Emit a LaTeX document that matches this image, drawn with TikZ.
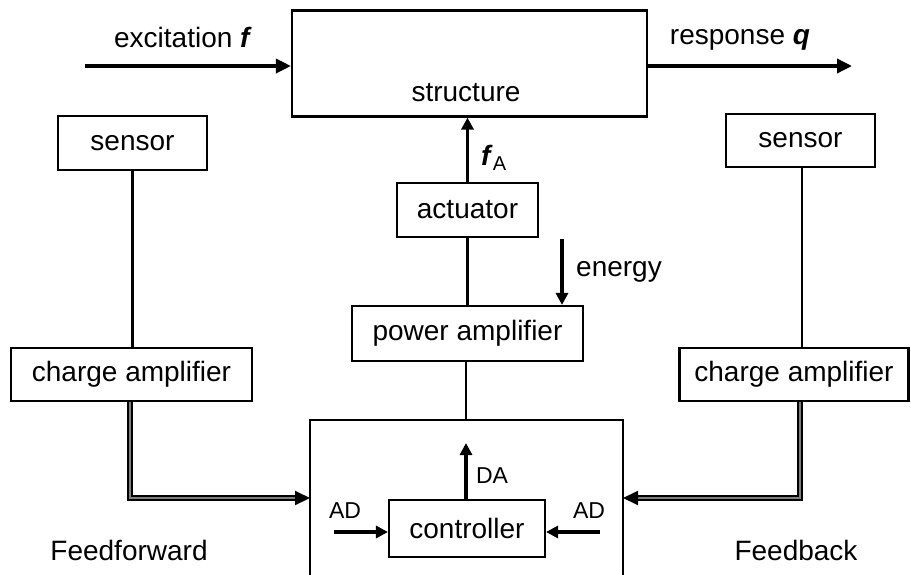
\documentclass[tikz,border=0pt]{standalone}
\usepackage{fontspec}
\setmainfont{Liberation Sans}
\usetikzlibrary{arrows.meta}
\begin{document}
\begin{tikzpicture}[x=1pt,y=-1pt,
  blk/.style={draw,line width=2.1pt,rectangle,inner sep=0pt,font=\fontsize{28}{32}\selectfont},
  lbl/.style={inner sep=0pt,font=\fontsize{28}{32}\selectfont},
  slbl/.style={inner sep=0pt,font=\fontsize{23}{28}\selectfont},
  conn/.style={line width=2.6pt},
  arr/.style={line width=3.4pt,-{Triangle[length=15pt,width=14pt]}},
  sarr/.style={line width=3.2pt,-{Triangle[length=12pt,width=12pt]}},
  dbl/.style={double=gray,double distance=1.3pt,line width=1.9pt,-{Triangle[length=15pt,width=14pt]}}
]
\useasboundingbox (0,0) rectangle (911,574);
% boxes
\node[blk,minimum width=355pt,minimum height=106pt] (struct) at (469.5,63.5) {};
\node[lbl] (structlbl) at (466,93) {structure};
\node[blk,minimum width=149pt,minimum height=54pt] (sensL) at (132.5,143) {sensor};
\node[blk,minimum width=149pt,minimum height=53pt] (sensR) at (800.5,140.5) {sensor};
\node[blk,minimum width=241pt,minimum height=53pt] (chargeL) at (131.5,374.5) {charge amplifier};
\node[blk,minimum width=229pt,minimum height=53pt] (chargeR) at (794,374.5) {charge amplifier};
\node[blk,minimum width=141pt,minimum height=54pt] (act) at (467.5,210) {actuator};
\node[blk,minimum width=231pt,minimum height=55pt] (pamp) at (467.5,333.5) {power amplifier};
\node[blk,minimum width=156pt,minimum height=57pt] (ctrl) at (467,528.5) {controller};
% outer (open) controller box
\coordinate (obl) at (310,590);
\coordinate (obtl) at (310,420);
\coordinate (obtr) at (623,420);
\coordinate (obr) at (623,590);
\draw[line width=2.1pt] (obl) -- (obtl) -- (obtr) -- (obr);
% excitation / response
\coordinate (exc) at (85,66);
\coordinate (resp) at (852,66);
\draw[arr] (exc) -- (exc -| struct.west);
\draw[arr] (resp -| struct.east) -- (resp);
\node[lbl,anchor=base] (exclbl) at (183,47) {excitation \textbf{\textit{f}}};
\node[lbl,anchor=base] (resplbl) at (740,44) {response \textbf{\textit{q}}};
% actuator force
\draw[sarr] (act.north) -- (act.north |- struct.south);
\node[lbl,anchor=west] (falbl) at (481,158) {\textbf{\textit{f}}\raisebox{-5pt}{\fontsize{20}{24}\selectfont A}};
% chain
\draw[conn] (act.south) -- (act.south |- pamp.north);
\coordinate (pdown) at (466,420);
\draw[conn] (pamp.south -| pdown) -- (pdown);
\coordinate (en) at (562,239);
\draw[sarr] (en) -- (en |- pamp.north);
\node[lbl,anchor=west] (enlbl) at (576,272) {energy};
% sensors
\draw[conn] (sensL.south) -- (sensL.south |- chargeL.north);
\coordinate (rs) at (802,170);
\draw[conn] (rs |- sensR.south) -- (rs |- chargeR.north);
% feedforward / feedback
\coordinate (ffc) at (130,498);
\coordinate (fbc) at (800,498);
\draw[dbl] (ffc |- chargeL.south) -- (ffc) -- (ffc -| obtl);
\draw[dbl] (fbc |- chargeR.south) -- (fbc) -- (fbc -| obtr);
\node[lbl] (fflbl) at (129,550) {Feedforward};
\node[lbl] (fblbl) at (796,550) {Feedback};
% inside controller box
\coordinate (da) at (466,443);
\draw[sarr] (ctrl.north -| da) -- (da);
\node[slbl] (dalbl) at (492,476) {DA};
\coordinate (adl) at (334,532);
\coordinate (adr) at (600,532);
\draw[sarr] (adl) -- (adl -| ctrl.west);
\draw[sarr] (adr) -- (adr -| ctrl.east);
\node[slbl] (adllbl) at (345,511) {AD};
\node[slbl] (adrlbl) at (589,511) {AD};
\end{tikzpicture}
\end{document}
